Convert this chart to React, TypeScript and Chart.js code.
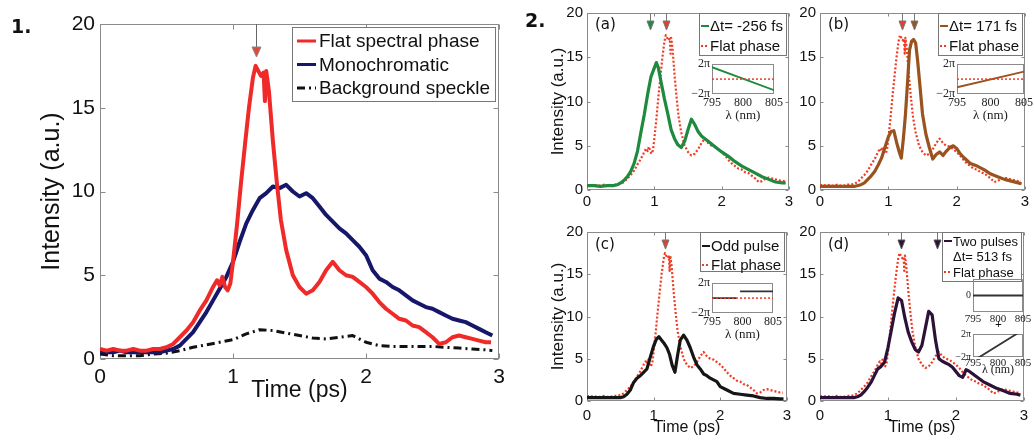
import React, { useEffect, useRef } from 'react';
import { Chart, registerables } from 'chart.js';
Chart.register(...registerables);

const SANS = '"Liberation Sans", Arial, sans-serif';
const SERIF = '"Liberation Serif", "Times New Roman", serif';

// ---------- Panel 1 data ----------
const FLAT_T = [0, 0.05, 0.1, 0.15, 0.2, 0.25, 0.3, 0.35, 0.4, 0.45, 0.5, 0.55, 0.6, 0.65, 0.7, 0.75, 0.8, 0.85,
  0.88, 0.9, 0.92, 0.94, 0.96, 0.98, 1.0,
  1.03, 1.06, 1.09, 1.12, 1.15, 1.17, 1.19, 1.21, 1.23, 1.24, 1.25, 1.27,
  1.3, 1.33, 1.36, 1.4,
  1.45, 1.5, 1.55, 1.6, 1.65, 1.7, 1.75, 1.8, 1.85, 1.9, 1.95, 2.0, 2.05, 2.1, 2.15, 2.2, 2.25, 2.3, 2.35, 2.4,
  2.45, 2.5, 2.55, 2.6, 2.65, 2.7, 2.75, 2.8, 2.85, 2.9, 2.94];
const FLAT_V = [0.6, 0.5, 0.6, 0.5, 0.5, 0.6, 0.5, 0.5, 0.6, 0.6, 0.7, 0.9, 1.3, 1.7, 2.2, 2.9, 3.5, 4.3,
  4.7, 4.4, 4.9, 4.3, 4.1, 4.5, 5.8,
  8.0, 10.5, 12.8, 15.0, 16.8, 17.5, 17.2, 16.9, 17.1, 15.4, 17.2, 16.0,
  13.0, 10.5, 8.3, 6.5,
  5.0, 4.3, 3.9, 4.1, 4.6, 5.3, 5.8, 5.3, 5.0, 4.9, 4.6, 4.3, 3.9, 3.4, 3.0, 2.7, 2.4, 2.3, 2.0, 1.9,
  1.6, 1.3, 0.9, 1.0, 1.3, 1.4, 1.3, 1.2, 1.1, 1.0, 1.0];

const MONO_T = [0, 0.05, 0.1, 0.15, 0.2, 0.25, 0.3, 0.35, 0.4, 0.45,
  0.5, 0.55, 0.6, 0.65, 0.7, 0.75, 0.8, 0.85, 0.9, 0.95,
  1.0, 1.05, 1.1, 1.15, 1.2, 1.25, 1.3, 1.35, 1.4, 1.45,
  1.5, 1.55, 1.6, 1.65, 1.7, 1.75, 1.8, 1.85, 1.9, 1.95,
  2.0, 2.05, 2.1, 2.15, 2.2, 2.25, 2.3, 2.35, 2.4, 2.45,
  2.5, 2.55, 2.6, 2.65, 2.7, 2.75, 2.8, 2.85, 2.9, 2.95];
const MONO_V = [0.5, 0.4, 0.4, 0.5, 0.4, 0.4, 0.4, 0.4, 0.4, 0.4,
  0.5, 0.6, 0.8, 1.2, 1.6, 2.2, 2.8, 3.5, 4.2, 4.9,
  5.8, 7.0, 8.1, 8.9, 9.6, 9.9, 10.3, 10.2, 10.4, 10.0,
  9.7, 9.9, 9.6, 9.1, 8.6, 8.2, 7.8, 7.5, 7.1, 6.7,
  6.2, 5.3, 4.8, 4.6, 4.3, 4.1, 3.8, 3.5, 3.3, 3.1,
  3.0, 2.8, 2.6, 2.4, 2.3, 2.2, 2.0, 1.8, 1.6, 1.4];

const SPECKLE_T = [0, 0.1, 0.2, 0.3, 0.4, 0.5, 0.6, 0.7, 0.8, 0.9,
  1.0, 1.1, 1.2, 1.3, 1.4, 1.5, 1.6, 1.7, 1.8, 1.9,
  2.0, 2.1, 2.2, 2.3, 2.4, 2.5, 2.6, 2.7, 2.8, 2.9, 2.95];
const SPECKLE_V = [0.3, 0.2, 0.2, 0.2, 0.3, 0.35, 0.5, 0.7, 0.85, 1.0,
  1.15, 1.5, 1.75, 1.7, 1.55, 1.4, 1.25, 1.2, 1.3, 1.4,
  1.0, 0.8, 0.75, 0.75, 0.75, 0.75, 0.7, 0.65, 0.6, 0.55, 0.5];

// ---------- Panel 2 data ----------
const GREEN_T = [0, 0.1, 0.2, 0.3, 0.4, 0.45, 0.5, 0.55, 0.6, 0.65, 0.7, 0.75, 0.8, 0.85, 0.9, 0.95, 1.0,
  1.03, 1.06, 1.1, 1.15, 1.2, 1.25, 1.3, 1.35, 1.4, 1.45, 1.5, 1.55, 1.6, 1.65, 1.7, 1.75, 1.8,
  1.9, 2.0, 2.1, 2.2, 2.3, 2.4, 2.5, 2.6, 2.7, 2.8, 2.9, 2.95];
const GREEN_V = [0.5, 0.5, 0.4, 0.5, 0.5, 0.6, 0.8, 1.1, 1.5, 2.1, 3.0, 4.4, 6.5, 8.5, 10.8, 12.8, 13.8,
  14.4, 13.8, 12.2, 10.3, 8.6, 6.8, 5.8, 5.1, 4.8, 5.5, 6.8, 8.0, 7.4, 6.6, 6.1, 5.8, 5.5,
  4.9, 4.3, 3.8, 3.2, 2.7, 2.3, 1.9, 1.5, 1.2, 0.9, 0.8, 0.8];

const BROWN_T = [0, 0.1, 0.2, 0.3, 0.4, 0.5, 0.6, 0.65, 0.7, 0.75, 0.8, 0.85, 0.9, 0.95, 1.0,
  1.04, 1.08, 1.12, 1.16, 1.19, 1.22, 1.25, 1.28, 1.31, 1.34, 1.37, 1.4, 1.43, 1.46,
  1.5, 1.55, 1.6, 1.65, 1.7, 1.75, 1.8, 1.85, 1.9, 1.95, 2.0, 2.05, 2.1,
  2.2, 2.3, 2.4, 2.5, 2.6, 2.7, 2.8, 2.9, 2.95];
const BROWN_V = [0.4, 0.4, 0.4, 0.4, 0.4, 0.4, 0.6, 0.8, 1.2, 1.6, 2.1, 2.8, 3.6, 4.8, 6.0,
  6.6, 6.7, 5.4, 4.3, 3.6, 5.8, 8.5, 12.0, 15.8, 16.8, 17.0, 16.6, 14.5, 12.0,
  8.6, 6.3, 4.8, 3.5, 4.0, 4.3, 3.9, 4.4, 4.8, 5.0, 4.7, 4.1, 3.7,
  3.0, 2.7, 2.3, 1.8, 1.5, 1.2, 1.0, 0.8, 0.7];

const ODD_T = [0, 0.1, 0.2, 0.3, 0.4, 0.5, 0.55, 0.6, 0.65, 0.7, 0.75, 0.8, 0.85, 0.9, 0.95, 1.0,
  1.04, 1.08, 1.12, 1.16, 1.2, 1.24, 1.28, 1.32, 1.36, 1.4,
  1.45, 1.5, 1.55, 1.6, 1.65, 1.7, 1.75, 1.8, 1.85, 1.9, 1.95, 2.0,
  2.1, 2.2, 2.3, 2.4, 2.5, 2.6, 2.7, 2.8, 2.9, 2.95];
const ODD_V = [0.4, 0.4, 0.4, 0.4, 0.4, 0.4, 0.5, 0.8, 1.3, 2.2, 2.7, 3.0, 3.4, 3.8, 5.2, 6.5,
  7.3, 7.6, 7.2, 6.8, 6.3, 5.5, 4.2, 3.4, 5.4, 7.2,
  7.8, 7.2, 6.3, 5.2, 4.3, 3.8, 3.2, 3.0, 2.7, 2.5, 2.3, 1.7,
  1.3, 0.9, 0.8, 0.7, 0.6, 0.4, 0.3, 0.3, 0.25, 0.25];

const TWO_T = [0, 0.1, 0.2, 0.3, 0.4, 0.5, 0.55, 0.6, 0.65, 0.7, 0.75, 0.8, 0.85, 0.9, 0.95, 1.0,
  1.05, 1.1, 1.15, 1.2, 1.25, 1.3, 1.35, 1.4, 1.45, 1.5,
  1.55, 1.6, 1.65, 1.7, 1.75, 1.8, 1.85, 1.9, 1.95, 2.0,
  2.05, 2.1, 2.15, 2.2, 2.3, 2.4, 2.5, 2.6, 2.7, 2.8, 2.9, 2.95];
const TWO_V = [0.4, 0.4, 0.4, 0.4, 0.4, 0.4, 0.5, 0.7, 1.1, 1.6, 2.2, 3.0, 3.8, 4.1, 4.6, 6.3,
  8.4, 10.5, 12.2, 11.9, 9.8, 8.1, 7.0, 6.1, 5.8, 6.6,
  8.6, 10.6, 10.2, 7.2, 5.0, 4.7, 4.5, 4.3, 4.0, 3.5,
  3.0, 2.8, 3.7, 3.5, 2.9, 2.3, 1.9, 1.5, 1.2, 0.9, 0.8, 0.7];

// arrows (time positions, ps)
const ARROWS_1 = [1.17];
const ARROWS_A = [0.94, 1.18];
const ARROWS_B = [1.2, 1.37];
const ARROWS_C = [1.17];
const ARROWS_D = [1.19, 1.72];

// ---------- Inset data (phase in units of pi) ----------
const LAMBDA = [795, 805];
const FLAT_PHASE = [0, 0];
const PHASE_A = [1.6, -1.5];
const PHASE_B = [-1.1, 1.0];
const STEP_L = [795, 799, 799.3, 799.6, 805];
const PHASE_C = [0, 0, null, 0.9, 0.9];
const PHASE_D1 = [0, 0];
const PHASE_D2 = [-2.7, 2.7];

const pts = (xs: number[], ys: (number | null)[]) => xs.map((x, i) => ({ x, y: ys[i] }));

// ---------- plugins ----------
const framePlugin = {
  id: 'frame',
  beforeDatasetsDraw(chart: any, _a: any, o: any) {
    const { ctx, chartArea: a } = chart;
    ctx.save();
    ctx.strokeStyle = o.color || '#8a8a8a';
    ctx.lineWidth = 1;
    const l = Math.round(a.left) + 0.5, t = Math.round(a.top) + 0.5;
    const r = Math.round(a.right) - 0.5, b = Math.round(a.bottom) - 0.5;
    ctx.strokeRect(l, t, r - l, b - t);
    const tl = o.tick || 0;
    if (tl) {
      const xs = chart.scales.x, ys = chart.scales.y;
      ctx.beginPath();
      xs.ticks.forEach((tk: any) => {
        const p = Math.round(xs.getPixelForValue(tk.value)) + 0.5;
        ctx.moveTo(p, b); ctx.lineTo(p, b - tl);
        ctx.moveTo(p, t); ctx.lineTo(p, t + tl);
      });
      ys.ticks.forEach((tk: any) => {
        const p = Math.round(ys.getPixelForValue(tk.value)) + 0.5;
        ctx.moveTo(l, p); ctx.lineTo(l + tl, p);
        ctx.moveTo(r, p); ctx.lineTo(r - tl, p);
      });
      ctx.stroke();
    }
    ctx.restore();
  },
};

const arrowPlugin = {
  id: 'arrows',
  afterDatasetsDraw(chart: any, _a: any, o: any) {
    if (!o || !o.xs) return;
    const { ctx, chartArea: a } = chart;
    const xs = chart.scales.x;
    o.xs.forEach((v: number, i: number) => {
      const px = Math.round(xs.getPixelForValue(v)) + 0.5;
      ctx.save();
      ctx.strokeStyle = o.stem || '#666';
      ctx.lineWidth = 1;
      ctx.beginPath();
      ctx.moveTo(px, a.top);
      ctx.lineTo(px, a.top + o.stemLen);
      ctx.stroke();
      ctx.beginPath();
      ctx.moveTo(px - o.half, a.top + o.stemLen);
      ctx.lineTo(px + o.half, a.top + o.stemLen);
      ctx.lineTo(px, a.top + o.stemLen + o.head);
      ctx.closePath();
      ctx.fillStyle = o.colors[i];
      ctx.fill();
      ctx.strokeStyle = o.edge || '#777';
      ctx.stroke();
      ctx.restore();
    });
  },
};

const boxLegendPlugin = {
  id: 'boxLegend',
  afterDraw(chart: any, _a: any, o: any) {
    if (!o || !o.show) return;
    const { ctx, chartArea: a } = chart;
    ctx.save();
    ctx.font = `${o.size}px ${SANS}`;
    const rows: any[] = [];
    chart.data.datasets.forEach((ds: any) => {
      String(ds.label).split('\n').forEach((txt: string, k: number) => rows.push({ txt, ds: k === 0 ? ds : null }));
    });
    const tw = Math.max(...rows.map((r) => ctx.measureText(r.txt).width));
    const w = Math.round(o.padL + o.sample + o.gap + tw + o.padR);
    const right = Math.round(a.right - o.right);
    const left = right - w;
    const top = Math.round(a.top + o.top);
    ctx.fillStyle = '#fff';
    ctx.fillRect(left, top, w, o.height);
    ctx.strokeStyle = '#777';
    ctx.lineWidth = 1;
    ctx.strokeRect(left + 0.5, top + 0.5, w, o.height);
    rows.forEach((r, i) => {
      const cy = top + o.first + i * o.rowH;
      if (r.ds) {
        ctx.strokeStyle = r.ds.borderColor;
        ctx.lineWidth = o.lineW;
        ctx.setLineDash(r.ds.borderDash || []);
        ctx.beginPath();
        ctx.moveTo(left + o.padL, cy);
        ctx.lineTo(left + o.padL + o.sample, cy);
        ctx.stroke();
        ctx.setLineDash([]);
      }
      ctx.fillStyle = '#111';
      ctx.textBaseline = 'middle';
      ctx.textAlign = 'left';
      ctx.fillText(r.txt, left + o.padL + o.sample + o.gap, cy + 1);
    });
    ctx.restore();
  },
};

// ---------- config builders ----------
function mainConfig(o: any) {
  return {
    type: 'line',
    data: { datasets: o.datasets },
    options: {
      animation: false,
      responsive: false,
      events: [],
      layout: { padding: { top: o.padTop, right: o.padRight, left: 0, bottom: 0 } },
      elements: { point: { radius: 0 }, line: { tension: 0, borderJoinStyle: 'round' } },
      plugins: {
        legend: { display: false },
        tooltip: { enabled: false },
        frame: { tick: o.frameTick },
        arrows: o.arrows,
        boxLegend: o.legend,
      },
      scales: {
        x: {
          type: 'linear', min: 0, max: 3,
          ticks: { stepSize: 1, padding: o.xPad, font: { family: SANS, size: o.tick }, color: '#111', maxRotation: 0, autoSkip: false },
          grid: { display: false, drawTicks: false },
          border: { display: false },
          title: o.xTitle
            ? { display: true, text: o.xTitle.text, color: '#111', font: { family: SANS, size: o.xTitle.size }, padding: { top: 0, bottom: o.xTitle.padB } }
            : { display: false },
          afterFit: (s: any) => { s.height = o.xH; },
        },
        y: {
          type: 'linear', min: 0, max: 20,
          ticks: { stepSize: 5, padding: o.yPad, font: { family: SANS, size: o.tick }, color: '#111' },
          grid: { display: false, drawTicks: false },
          border: { display: false },
          title: o.yTitle
            ? { display: true, text: o.yTitle.text, color: '#111', font: { family: SANS, size: o.yTitle.size }, padding: { top: o.yTitle.padT, bottom: 0 } }
            : { display: false },
          afterFit: (s: any) => { s.width = o.yW; },
        },
      },
    },
    plugins: [framePlugin, arrowPlugin, boxLegendPlugin],
  };
}

function insetConfig(o: any) {
  return {
    type: 'line',
    data: { datasets: o.datasets },
    options: {
      animation: false,
      responsive: false,
      events: [],
      layout: { padding: { top: o.padTop, right: o.padRight, left: 0, bottom: 0 } },
      elements: { point: { radius: 0 }, line: { tension: 0 } },
      plugins: { legend: { display: false }, tooltip: { enabled: false }, frame: { tick: 0, color: '#8a8a8a' } },
      scales: {
        x: {
          type: 'linear', min: 795, max: 805,
          ticks: { stepSize: 5, padding: o.xPad, font: { family: SERIF, size: o.tick }, color: '#222', maxRotation: 0, autoSkip: false },
          grid: { display: false, drawTicks: false },
          border: { display: false },
          title: o.xTitle
            ? { display: true, text: 'λ (nm)', color: '#222', font: { family: SERIF, size: o.xTitle.size }, padding: { top: 0, bottom: o.xTitle.padB } }
            : { display: false },
          afterFit: (s: any) => { s.height = o.xH; },
        },
        y: {
          type: 'linear', min: -2, max: 2,
          ticks: {
            stepSize: 2, padding: 2, font: { family: SERIF, size: o.yTick }, color: '#222',
            callback: (v: number) => (o.onlyZero ? (v === 0 ? '0' : '') : v === 0 ? '0' : v > 0 ? '2π' : '−2π'),
          },
          grid: { display: false, drawTicks: false },
          border: { display: false },
          afterFit: (s: any) => { s.width = o.yW; },
        },
      },
    },
    plugins: [framePlugin],
  };
}

// ---------- colors ----------
const RED1 = '#f02a28';
const BLUE1 = '#16176a';
const RED_DOT = '#f23a22';
const GREEN = '#1d8a3e';
const BROWN = '#9a521f';
const ODD = '#161616';
const TWO = '#2c1238';

const flatDotted = (label: string) => ({
  label, data: pts(FLAT_T, FLAT_V), borderColor: RED_DOT, borderWidth: 2.2, borderDash: [2, 2], pointRadius: 0,
});

const LEG2 = { show: true, size: 15, rowH: 20, first: 13, height: 42, top: 0, right: 3, padL: 2, sample: 8, gap: 1, padR: 3, lineW: 2 };

function ChartCanvas({ left, top, width, height, config }: any) {
  const ref = useRef<HTMLCanvasElement>(null);
  useEffect(() => {
    const c = new Chart(ref.current as HTMLCanvasElement, config);
    return () => c.destroy();
  }, []);
  return <canvas ref={ref} width={width} height={height} style={{ position: 'absolute', left, top, width, height }} />;
}

const txt = (left: number, top: number, size: number, s: string, extra: any = {}) => (
  <div style={{ position: 'absolute', left, top, fontSize: size, lineHeight: `${size}px`, fontFamily: '"DejaVu Sans", sans-serif', color: '#111', whiteSpace: 'nowrap', ...extra }}>{s}</div>
);

export default function App() {
  const p1 = mainConfig({
    datasets: [
      { label: 'Flat spectral phase', data: pts(FLAT_T, FLAT_V), borderColor: RED1, borderWidth: 4, pointRadius: 0 },
      { label: 'Monochromatic', data: pts(MONO_T, MONO_V), borderColor: BLUE1, borderWidth: 4, pointRadius: 0 },
      { label: 'Background speckle', data: pts(SPECKLE_T, SPECKLE_V), borderColor: '#111', borderWidth: 3, borderDash: [8, 4, 2, 4], pointRadius: 0 },
    ],
    yW: 100, xH: 61, padTop: 24, padRight: 16, tick: 21, xPad: 6, yPad: 5, frameTick: 5,
    xTitle: { text: 'Time (ps)', size: 23, padB: 16 },
    yTitle: { text: 'Intensity (a.u.)', size: 25, padT: 37 },
    arrows: { xs: ARROWS_1, colors: ['#de4a3c'], stemLen: 23, head: 10, half: 4.5, stem: '#666', edge: '#888' },
    legend: { show: true, size: 19, rowH: 23.5, first: 14, height: 74, top: 3, right: 4, padL: 5, sample: 19, gap: 3, padR: 5, lineW: 3 },
  });

  const pa = mainConfig({
    datasets: [
      { label: 'Δt= -256 fs', data: pts(GREEN_T, GREEN_V), borderColor: GREEN, borderWidth: 3.2, pointRadius: 0 },
      flatDotted('Flat phase'),
    ],
    yW: 67, xH: 25, padTop: 10, padRight: 8, tick: 15, xPad: 3, yPad: 4, frameTick: 3,
    yTitle: { text: 'Intensity (a.u.)', size: 17, padT: 28 },
    arrows: { xs: ARROWS_A, colors: [GREEN, '#e0402e'], stemLen: 8, head: 9, half: 3.5, stem: '#777', edge: '#777' },
    legend: LEG2,
  });

  const pb = mainConfig({
    datasets: [
      { label: 'Δt= 171 fs', data: pts(BROWN_T, BROWN_V), borderColor: BROWN, borderWidth: 3.2, pointRadius: 0 },
      flatDotted('Flat phase'),
    ],
    yW: 25, xH: 25, padTop: 10, padRight: 9, tick: 15, xPad: 3, yPad: 4, frameTick: 3,
    arrows: { xs: ARROWS_B, colors: ['#e0402e', BROWN], stemLen: 8, head: 9, half: 3.5, stem: '#777', edge: '#777' },
    legend: LEG2,
  });

  const pc = mainConfig({
    datasets: [
      { label: 'Odd pulse', data: pts(ODD_T, ODD_V), borderColor: ODD, borderWidth: 3.2, pointRadius: 0 },
      flatDotted('Flat phase'),
    ],
    yW: 67, xH: 41, padTop: 10, padRight: 8, tick: 15, xPad: 6, yPad: 4, frameTick: 3,
    xTitle: { text: 'Time (ps)', size: 16, padB: 5 },
    yTitle: { text: 'Intensity (a.u.)', size: 17, padT: 28 },
    arrows: { xs: ARROWS_C, colors: ['#e0402e'], stemLen: 8, head: 9, half: 3.5, stem: '#777', edge: '#777' },
    legend: { ...LEG2, rowH: 19, first: 14, height: 39 },
  });

  const pd = mainConfig({
    datasets: [
      { label: 'Two pulses\nΔt= 513 fs', data: pts(TWO_T, TWO_V), borderColor: TWO, borderWidth: 3.2, pointRadius: 0 },
      flatDotted('Flat phase'),
    ],
    yW: 25, xH: 41, padTop: 10, padRight: 9, tick: 15, xPad: 6, yPad: 4, frameTick: 3,
    xTitle: { text: 'Time (ps)', size: 16, padB: 5 },
    arrows: { xs: ARROWS_D, colors: [TWO, TWO], stemLen: 8, head: 9, half: 3.5, stem: '#777', edge: '#555' },
    legend: { ...LEG2, size: 13, rowH: 15.5, first: 9, height: 49 },
  });

  const phaseLine = (ys: (number | null)[], color: string, xs: number[] = LAMBDA) => ({
    data: pts(xs, ys), borderColor: color, borderWidth: 1.8, pointRadius: 0, spanGaps: false,
  });
  const flatPhase = { data: pts(LAMBDA, FLAT_PHASE), borderColor: RED_DOT, borderWidth: 1.5, borderDash: [2, 2], pointRadius: 0 };

  const ia = insetConfig({
    datasets: [flatPhase, phaseLine(PHASE_A, GREEN)],
    yW: 22, xH: 31, padTop: 8, padRight: 10, tick: 12, yTick: 12, xPad: 2, xTitle: { size: 13, padB: 2 },
  });
  const ib = insetConfig({
    datasets: [flatPhase, phaseLine(PHASE_B, BROWN)],
    yW: 22, xH: 31, padTop: 8, padRight: 10, tick: 12, yTick: 12, xPad: 2, xTitle: { size: 13, padB: 2 },
  });
  const ic = insetConfig({
    datasets: [flatPhase, phaseLine(PHASE_C, '#333', STEP_L)],
    yW: 22, xH: 31, padTop: 8, padRight: 10, tick: 12, yTick: 12, xPad: 2, xTitle: { size: 13, padB: 2 },
  });
  const id1 = insetConfig({
    datasets: [phaseLine(PHASE_D1, '#333')],
    yW: 18, xH: 15, padTop: 7, padRight: 10, tick: 11, yTick: 10, xPad: 1, onlyZero: true,
  });
  const id2 = insetConfig({
    datasets: [phaseLine(PHASE_D2, '#333')],
    yW: 18, xH: 23, padTop: 6, padRight: 10, tick: 11, yTick: 10, xPad: 0, xTitle: { size: 12, padB: 3 },
  });

  return (
    <div style={{ position: 'absolute', left: 0, top: 0, width: 1034, height: 442, background: '#fff', overflow: 'hidden' }}>
      <ChartCanvas left={0} top={0} width={515} height={420} config={p1} />
      <ChartCanvas left={520} top={0} width={277} height={215} config={pa} />
      <ChartCanvas left={795} top={0} width={239} height={215} config={pb} />
      <ChartCanvas left={520} top={219} width={277} height={223} config={pc} />
      <ChartCanvas left={795} top={219} width={239} height={223} config={pd} />
      <ChartCanvas left={690} top={55} width={95} height={70} config={ia} />
      <ChartCanvas left={935} top={55} width={100} height={70} config={ib} />
      <ChartCanvas left={690} top={274} width={94} height={70} config={ic} />
      <ChartCanvas left={955} top={271} width={78} height={56} config={id1} />
      <ChartCanvas left={955} top={326} width={78} height={54} config={id2} />
      {txt(11, 17, 19, '1.', { fontWeight: 'bold' })}
      {txt(525, 11, 19, '2.', { fontWeight: 'bold' })}
      {txt(595, 17, 15, '(a)')}
      {txt(828, 17, 15, '(b)')}
      {txt(595, 237, 15, '(c)')}
      {txt(828, 237, 15, '(d)')}
      {txt(995, 318, 12, '+', { fontFamily: SERIF, fontWeight: 'bold' })}
    </div>
  );
}
